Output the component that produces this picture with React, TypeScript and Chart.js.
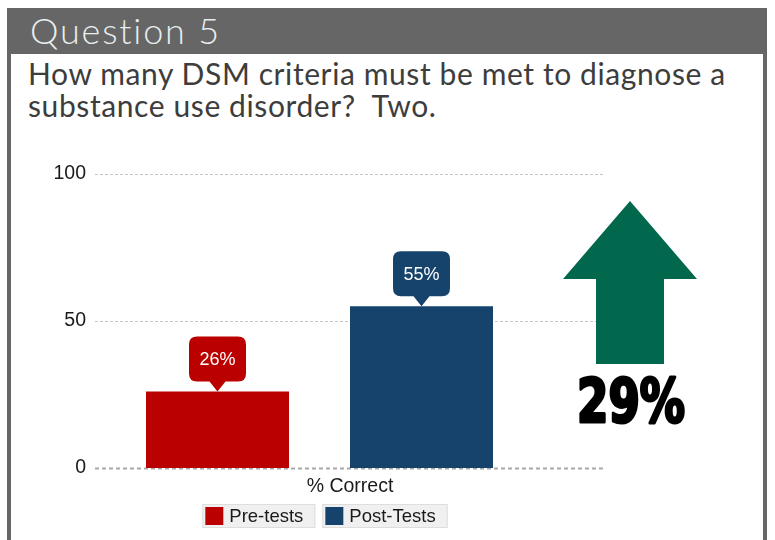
import React, { useEffect, useRef } from "react";
import { Chart, registerables } from "chart.js";

Chart.register(...registerables);

const headerTitle = "Question 5";
const questionLines = ["How many DSM criteria must be met to diagnose a", "substance use disorder?  Two."];
const categories = ["% Correct"];
const seriesNames = ["Pre-tests", "Post-Tests"];
const seriesValues = [[26], [55]];
const seriesColors = ["#bb0000", "#16436c"];
const valueLabels = ["26%", "55%"];
const yTicks = [0, 50, 100];
const changeLabel = "29%";
const arrowColor = "#02684d";

const overlayPlugin = {
  id: "overlay",
  beforeDatasetsDraw(chart: any) {
    const ctx = chart.ctx;
    const y = chart.scales.y;
    const left = chart.chartArea.left;
    const right = left + 510;
    ctx.save();
    yTicks.forEach((v) => {
      const py = Math.round(y.getPixelForValue(v)) + 0.5;
      ctx.beginPath();
      if (v === 0) {
        ctx.strokeStyle = "#a8a8a8";
        ctx.lineWidth = 2;
        ctx.setLineDash([4, 3]);
      } else {
        ctx.strokeStyle = "#c4c4c4";
        ctx.lineWidth = 1;
        ctx.setLineDash([3, 2]);
      }
      ctx.moveTo(left, py);
      ctx.lineTo(right, py);
      ctx.stroke();
    });
    ctx.restore();
  },
  afterDatasetsDraw(chart: any) {
    const ctx = chart.ctx;
    const left = chart.chartArea.left;
    const bottom = chart.chartArea.bottom;
    ctx.save();
    // callouts
    chart.data.datasets.forEach((ds: any, i: number) => {
      const bar = chart.getDatasetMeta(i).data[0];
      const cx = bar.x;
      const tip = bar.y;
      const w = 57, h = 45, ph = 10, pw = 8, r = 8;
      const bb = tip - ph;
      const bt = bb - h;
      const bl = cx - w / 2;
      const br = cx + w / 2;
      ctx.fillStyle = seriesColors[i];
      ctx.beginPath();
      ctx.moveTo(bl + r, bt);
      ctx.lineTo(br - r, bt);
      ctx.quadraticCurveTo(br, bt, br, bt + r);
      ctx.lineTo(br, bb - r);
      ctx.quadraticCurveTo(br, bb, br - r, bb);
      ctx.lineTo(cx + pw, bb);
      ctx.lineTo(cx, tip);
      ctx.lineTo(cx - pw, bb);
      ctx.lineTo(bl + r, bb);
      ctx.quadraticCurveTo(bl, bb, bl, bb - r);
      ctx.lineTo(bl, bt + r);
      ctx.quadraticCurveTo(bl, bt, bl + r, bt);
      ctx.closePath();
      ctx.fill();
      ctx.fillStyle = "#ffffff";
      ctx.font = "18px 'Liberation Sans', Arial, sans-serif";
      ctx.textAlign = "center";
      ctx.textBaseline = "middle";
      ctx.fillText(valueLabels[i], cx, bt + h / 2 + 1);
    });
    // category label
    ctx.fillStyle = "#1a1a1a";
    ctx.font = "19.5px 'Liberation Sans', Arial, sans-serif";
    ctx.textAlign = "center";
    ctx.textBaseline = "middle";
    ctx.fillText(categories[0], left + 255, bottom + 19);
    // legend
    ctx.font = "18.5px 'Liberation Sans', Arial, sans-serif";
    const widths = seriesNames.map((n) => 3 + 18 + 6 + ctx.measureText(n).width + 12);
    const gap = 7;
    const total = widths.reduce((a, b) => a + b, 0) + gap;
    let x = left + 230 - total / 2;
    const top = bottom + 36;
    seriesNames.forEach((n, i) => {
      ctx.fillStyle = "#f0f0f0";
      ctx.fillRect(x, top, widths[i], 24);
      ctx.strokeStyle = "#dedede";
      ctx.lineWidth = 1;
      ctx.strokeRect(x + 0.5, top + 0.5, widths[i] - 1, 23);
      ctx.fillStyle = seriesColors[i];
      ctx.fillRect(x + 3, top + 3, 18, 18);
      ctx.fillStyle = "#1a1a1a";
      ctx.textAlign = "left";
      ctx.textBaseline = "middle";
      ctx.fillText(n, x + 27, top + 13);
      x += widths[i] + gap;
    });
    // arrow
    const ax = left + 535;
    const at = chart.chartArea.top + 27;
    ctx.fillStyle = arrowColor;
    ctx.beginPath();
    ctx.moveTo(ax, at);
    ctx.lineTo(ax + 67, at + 78);
    ctx.lineTo(ax + 34, at + 78);
    ctx.lineTo(ax + 34, at + 163);
    ctx.lineTo(ax - 34, at + 163);
    ctx.lineTo(ax - 34, at + 78);
    ctx.lineTo(ax - 67, at + 78);
    ctx.closePath();
    ctx.fill();
    // change label
    ctx.fillStyle = "#000000";
    ctx.strokeStyle = "#000000";
    ctx.lineWidth = 3;
    ctx.lineJoin = "round";
    ctx.setLineDash([]);
    ctx.font = "bold 61px 'DejaVu Sans Condensed', 'DejaVu Sans', sans-serif";
    ctx.textAlign = "center";
    ctx.textBaseline = "alphabetic";
    const tw = ctx.measureText(changeLabel).width;
    const sx = 108 / tw;
    ctx.translate(ax + 1, at + 221);
    ctx.scale(sx, 1);
    ctx.fillText(changeLabel, 0, 0);
    ctx.strokeText(changeLabel, 0, 0);
    ctx.restore();
  },
};

export default function App() {
  const ref = useRef<HTMLCanvasElement | null>(null);
  useEffect(() => {
    if (!ref.current) return;
    const chart = new Chart(ref.current, {
      type: "bar",
      data: {
        labels: categories,
        datasets: seriesNames.map((n, i) => ({
          label: n,
          data: seriesValues[i],
          backgroundColor: seriesColors[i],
          borderWidth: 0,
          categoryPercentage: 408 / 449,
          barPercentage: 143 / 204,
        })),
      },
      options: {
        animation: false,
        responsive: false,
        maintainAspectRatio: false,
        layout: { padding: { top: 44, right: 218, bottom: 72, left: 0 } },
        plugins: { legend: { display: false }, tooltip: { enabled: false } },
        scales: {
          x: { display: false },
          y: {
            min: 0,
            max: 100,
            afterFit: (s: any) => {
              s.width = 85;
            },
            afterBuildTicks: (s: any) => {
              s.ticks = yTicks.map((v) => ({ value: v }));
            },
            grid: { display: false, drawTicks: false },
            border: { display: false },
            ticks: {
              color: "#1a1a1a",
              padding: 9,
              font: { family: "'Liberation Sans', Arial, sans-serif", size: 19.5 },
            },
          },
        },
      },
      plugins: [overlayPlugin],
    });
    return () => chart.destroy();
  }, []);

  return (
    <div style={{ position: "absolute", left: 0, top: 0, width: 775, height: 540, overflow: "hidden", background: "#fff" }}>
      <div
        style={{
          position: "absolute",
          left: 7,
          top: 8,
          width: 760,
          height: 540,
          boxSizing: "border-box",
          borderLeft: "4px solid #666",
          borderRight: "4px solid #666",
          background: "#fff",
        }}
      />
      <div style={{ position: "absolute", left: 7, top: 8, width: 760, height: 46, background: "#666" }} />
      <div
        style={{
          position: "absolute",
          left: 30,
          top: 7,
          height: 46,
          lineHeight: "46px",
          fontFamily: "Lato, sans-serif",
          fontWeight: 300,
          fontSize: 36,
          letterSpacing: "1.8px",
          fontVariantLigatures: "none",
          color: "#e8eeee",
          whiteSpace: "pre",
        }}
      >
        {headerTitle}
      </div>
      <div
        style={{
          position: "absolute",
          left: 28,
          top: 57,
          fontFamily: "Lato, sans-serif",
          fontSize: 30,
          letterSpacing: "0.6px",
          fontVariantLigatures: "none",
          lineHeight: "32.4px",
          color: "#3d3d3d",
          whiteSpace: "pre",
        }}
      >
        {questionLines.map((l, i) => (
          <div key={i}>{l}</div>
        ))}
      </div>
      <canvas ref={ref} width={752} height={410} style={{ position: "absolute", left: 10, top: 130, width: 752, height: 410 }} />
    </div>
  );
}
